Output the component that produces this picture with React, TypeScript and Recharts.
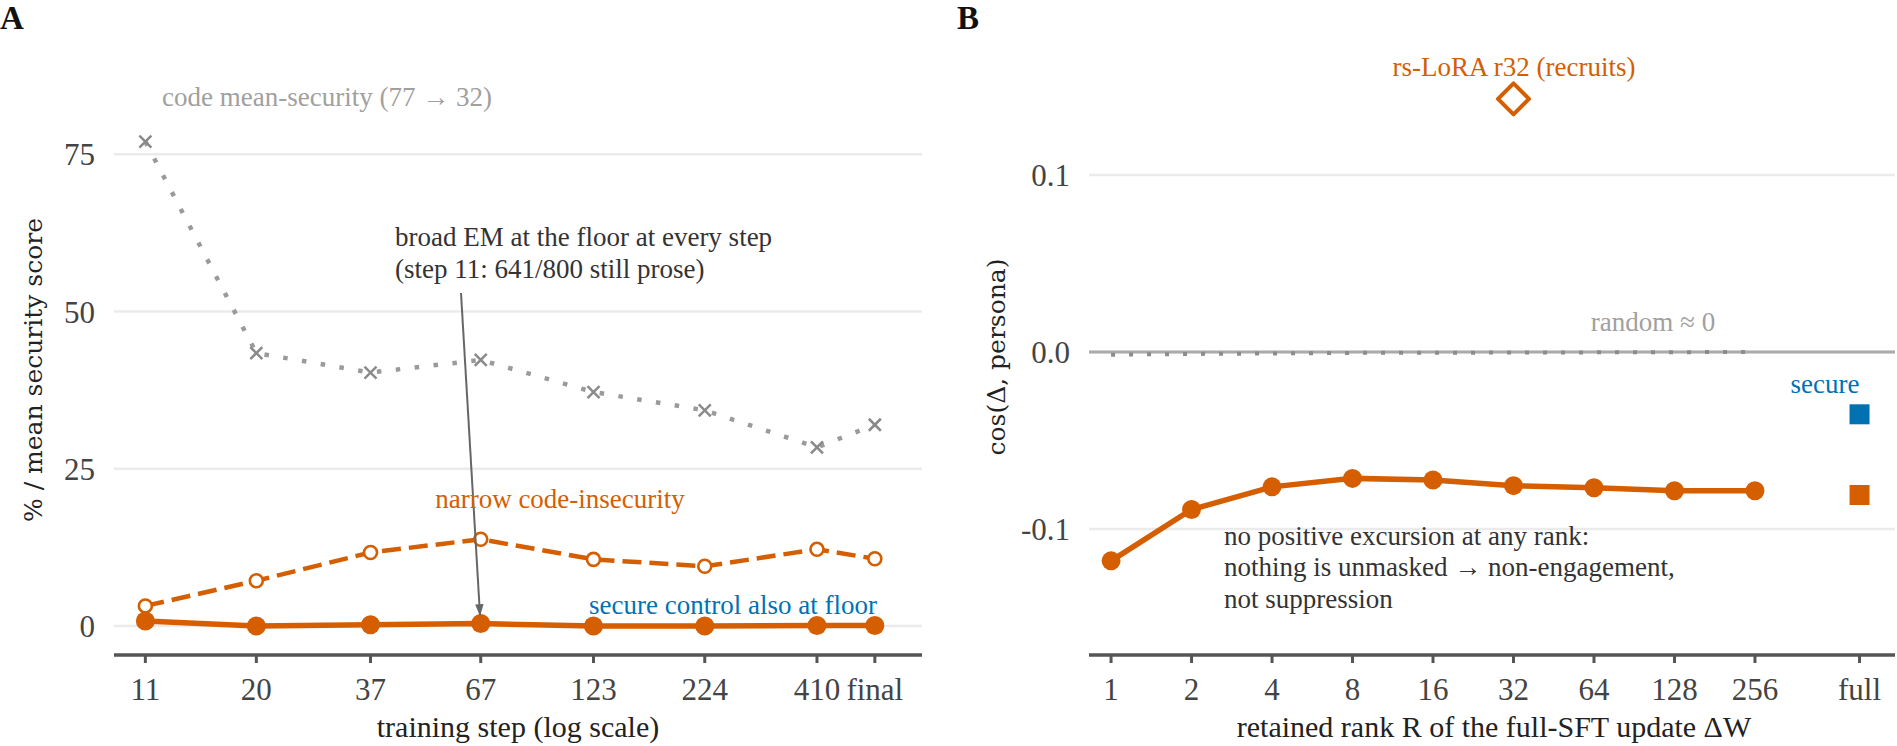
import React from 'react';
import { LineChart, ComposedChart, Line, Scatter, XAxis, YAxis, ReferenceLine } from 'recharts';

const ORANGE = '#D55E00';
const BLUE = '#0072B2';
const GREY = '#9a9a9a';
const INK = '#333333';
const TICK = '#444444';
const GRID = '#ebebeb';
const SERIF = '"Liberation Serif", "Times New Roman", serif';

// ---- Panel A: training trajectory ----
// the last checkpoint ("final") sits just past step 410 on the log axis
const steps = [11, 20, 37, 67, 123, 224, 410, 560];
const stepLabels = ['11', '20', '37', '67', '123', '224', '410', 'final'];
const meanSecurity = [77.0, 43.4, 40.3, 42.3, 37.2, 34.3, 28.4, 32.0];
const narrowInsecure = [3.2, 7.2, 11.7, 13.8, 10.6, 9.5, 12.2, 10.7];
const broadEM = [0.8, 0.0, 0.2, 0.4, 0.0, 0.0, 0.1, 0.1];
const yTicksA = [0, 25, 50, 75];

// ---- Panel B: rank truncation of the full-SFT update ----
const ranks = [1, 2, 4, 8, 16, 32, 64, 128, 256];
const FULL_RANK = 630; // axis slot for the untruncated update
const rankTicks = [...ranks, FULL_RANK];
const rankLabels = ['1', '2', '4', '8', '16', '32', '64', '128', '256', 'full'];
const rankCos = [-0.118, -0.089, -0.0762, -0.0714, -0.0723, -0.0755, -0.0767, -0.0784, -0.0784];
const randomCos = [-0.0015, -0.0011, -0.0008, -0.0005, -0.0004, -0.0003, -0.0002, -0.0001, 0.0];
const fullInsecureCos = -0.0808;
const fullSecureCos = -0.0352;
const rsLoraRank = 32;
const rsLoraCos = 0.143;
const yTicksB = [-0.1, 0.0, 0.1];

const dataA = steps.map((s, i) => ({
  step: s,
  meanSecurity: meanSecurity[i],
  narrow: narrowInsecure[i],
  broad: broadEM[i],
}));
const rankData = ranks.map((r, i) => ({ r, v: rankCos[i] }));
const randomData = ranks.map((r, i) => ({ r, v: randomCos[i] }));
const fullInsecure = [{ r: FULL_RANK, v: fullInsecureCos }];
const fullSecure = [{ r: FULL_RANK, v: fullSecureCos }];
const rsLora = [{ r: rsLoraRank, v: rsLoraCos }];

const CrossDot = (p: any) => {
  const { cx, cy, index } = p;
  if (cx == null || cy == null) return <g key={`x${index}`} />;
  const s = 6;
  return (
    <g key={`x${index}`} stroke="#8a8a8a" strokeWidth={2.5}>
      <line x1={cx - s} y1={cy - s} x2={cx + s} y2={cy + s} />
      <line x1={cx - s} y1={cy + s} x2={cx + s} y2={cy - s} />
    </g>
  );
};

const OpenDot = (p: any) => {
  const { cx, cy, index } = p;
  if (cx == null || cy == null) return <g key={`o${index}`} />;
  return <circle key={`o${index}`} cx={cx} cy={cy} r={6.5} fill="#fff" stroke={ORANGE} strokeWidth={2.6} />;
};

const FilledDot = (p: any) => {
  const { cx, cy, index } = p;
  if (cx == null || cy == null) return <g key={`f${index}`} />;
  return <circle key={`f${index}`} cx={cx} cy={cy} r={9.5} fill={ORANGE} stroke="none" />;
};

const squareShape = (color: string) => (p: any) => {
  const { cx, cy } = p;
  return <rect x={cx - 10} y={cy - 10} width={20} height={20} fill={color} />;
};

const diamondShape = (p: any) => {
  const { cx, cy } = p;
  const h = 15.5;
  return (
    <polygon
      points={`${cx},${cy - h} ${cx + h},${cy} ${cx},${cy + h} ${cx - h},${cy}`}
      fill="#fff"
      stroke={ORANGE}
      strokeWidth={4}
      strokeLinejoin="round"
    />
  );
};

const fmtStep = (v: number) => stepLabels[steps.indexOf(v)] ?? String(v);
const fmtRank = (v: number) => rankLabels[rankTicks.indexOf(v)] ?? String(v);
const fmtCos = (v: number) => (Math.abs(v) < 1e-9 ? '0.0' : v.toFixed(1));

const tickStyle = { fill: TICK, fontSize: 31, fontFamily: SERIF };

function PanelA() {
  return (
    <LineChart width={950} height={746} data={dataA} margin={{ top: 80, right: 28, bottom: 0, left: 0 }}>
      <XAxis
        dataKey="step"
        type="number"
        scale="log"
        domain={[9.29, 722]}
        allowDataOverflow
        ticks={steps}
        tickFormatter={fmtStep}
        interval={0}
        height={91}
        axisLine={{ stroke: '#555', strokeWidth: 3.5 }}
        tickLine={{ stroke: '#555', strokeWidth: 3 }}
        tickSize={8}
        tickMargin={15}
        tick={tickStyle}
      />
      <YAxis
        type="number"
        domain={[-4.6, 86.8]}
        allowDataOverflow
        ticks={yTicksA}
        width={114}
        axisLine={false}
        tickLine={false}
        tickSize={0}
        tickMargin={19}
        tick={tickStyle}
      />
      {yTicksA.map((v) => (
        <ReferenceLine key={`ga${v}`} y={v} stroke={GRID} strokeWidth={2.5} />
      ))}
      <Line
        dataKey="meanSecurity"
        stroke={GREY}
        strokeWidth={4.5}
        strokeDasharray="4.5 14.5"
        dot={CrossDot}
        activeDot={false}
        isAnimationActive={false}
      />
      <Line
        dataKey="narrow"
        stroke={ORANGE}
        strokeWidth={4.5}
        strokeDasharray="19 8"
        dot={OpenDot}
        activeDot={false}
        isAnimationActive={false}
      />
      <Line
        dataKey="broad"
        stroke={ORANGE}
        strokeWidth={5.5}
        dot={FilledDot}
        activeDot={false}
        isAnimationActive={false}
      />
    </LineChart>
  );
}

function PanelB() {
  return (
    <ComposedChart width={947} height={746} margin={{ top: 40, right: 2, bottom: 0, left: 0 }}>
      <XAxis
        dataKey="r"
        type="number"
        scale="log"
        domain={[0.827, 855]}
        allowDataOverflow
        ticks={rankTicks}
        tickFormatter={fmtRank}
        interval={0}
        height={91}
        axisLine={{ stroke: '#555', strokeWidth: 3.5 }}
        tickLine={{ stroke: '#555', strokeWidth: 3 }}
        tickSize={8}
        tickMargin={15}
        tick={tickStyle}
      />
      <YAxis
        type="number"
        domain={[-0.1712, 0.1763]}
        allowDataOverflow
        ticks={yTicksB}
        tickFormatter={fmtCos}
        width={139}
        axisLine={false}
        tickLine={false}
        tickSize={0}
        tickMargin={19}
        tick={tickStyle}
      />
      {yTicksB.map((v) => (
        <ReferenceLine key={`gb${v}`} y={v} stroke={GRID} strokeWidth={2.5} />
      ))}
      <ReferenceLine y={0} stroke="#aaaaaa" strokeWidth={3} />
      <Line
        data={randomData}
        dataKey="v"
        stroke="#8c8c8c"
        strokeWidth={4}
        strokeDasharray="4 14"
        dot={false}
        activeDot={false}
        isAnimationActive={false}
      />
      <Line
        data={rankData}
        dataKey="v"
        stroke={ORANGE}
        strokeWidth={5.5}
        dot={FilledDot}
        activeDot={false}
        isAnimationActive={false}
      />
      <Scatter data={fullSecure} dataKey="v" shape={squareShape(BLUE)} isAnimationActive={false} />
      <Scatter data={fullInsecure} dataKey="v" shape={squareShape(ORANGE)} isAnimationActive={false} />
      <Scatter data={rsLora} dataKey="v" shape={diamondShape} isAnimationActive={false} />
    </ComposedChart>
  );
}

function Annotations() {
  const t = { fontFamily: SERIF, fontSize: 27 } as const;
  return (
    <svg
      width={1897}
      height={746}
      style={{ position: 'absolute', left: 0, top: 0, pointerEvents: 'none' }}
    >
      <defs>
        <marker id="head" viewBox="0 0 10 10" refX="9" refY="5" markerWidth="6" markerHeight="6" orient="auto">
          <path d="M0,1.5 L10,5 L0,8.5 z" fill="#666" />
        </marker>
      </defs>
      {/* panel letters */}
      <text x={0} y={29} fontFamily={SERIF} fontWeight="bold" fontSize={33} fill="#111">A</text>
      <text x={957} y={29} fontFamily={SERIF} fontWeight="bold" fontSize={33} fill="#111">B</text>

      {/* axis titles */}
      <text x={518} y={737} textAnchor="middle" fontFamily={SERIF} fontSize={30} fill="#222">training step (log scale)</text>
      <text x={1494} y={737} textAnchor="middle" fontFamily={SERIF} fontSize={30} fill="#222">retained rank R of the full-SFT update ΔW</text>
      <text
        transform="translate(33,370) rotate(-90)"
        textAnchor="middle"
        dominantBaseline="central"
        fontFamily='"DejaVu Serif", serif'
        fontSize={25}
        fill="#222"
      >
        % / mean security score
      </text>
      <text
        transform="translate(996,357) rotate(-90)"
        textAnchor="middle"
        dominantBaseline="central"
        fontFamily='"DejaVu Serif", serif'
        fontSize={25}
        fill="#222"
      >
        cos(Δ, persona)
      </text>

      {/* panel A notes */}
      <text {...t} x={327} y={106} textAnchor="middle" fill="#a0a0a0">code mean-security (77 → 32)</text>
      <text {...t} x={395} y={246} fill={INK}>broad EM at the floor at every step</text>
      <text {...t} x={395} y={278} fill={INK}>(step 11: 641/800 still prose)</text>
      <line x1={461} y1={293} x2={480} y2={615} stroke="#666" strokeWidth={2} markerEnd="url(#head)" />
      <text {...t} x={560} y={508} textAnchor="middle" fill={ORANGE}>narrow code-insecurity</text>
      <text {...t} x={733} y={614} textAnchor="middle" fill={BLUE}>secure control also at floor</text>

      {/* panel B notes */}
      <text {...t} x={1514} y={76} textAnchor="middle" fill={ORANGE}>rs-LoRA r32 (recruits)</text>
      <text {...t} x={1653} y={331} textAnchor="middle" fill="#a0a0a0">random ≈ 0</text>
      <text {...t} x={1825} y={393} textAnchor="middle" fill={BLUE}>secure</text>
      <text {...t} x={1224} y={545} fill={INK}>no positive excursion at any rank:</text>
      <text {...t} x={1224} y={576} fill={INK}>nothing is unmasked → non-engagement,</text>
      <text {...t} x={1224} y={608} fill={INK}>not suppression</text>
    </svg>
  );
}

export default function App() {
  return (
    <div
      style={{
        position: 'absolute',
        left: 0,
        top: 0,
        width: 1897,
        height: 746,
        background: '#fff',
        fontFamily: SERIF,
      }}
    >
      <div style={{ position: 'absolute', left: 0, top: 0 }}>
        <PanelA />
      </div>
      <div style={{ position: 'absolute', left: 950, top: 0 }}>
        <PanelB />
      </div>
      <Annotations />
    </div>
  );
}
